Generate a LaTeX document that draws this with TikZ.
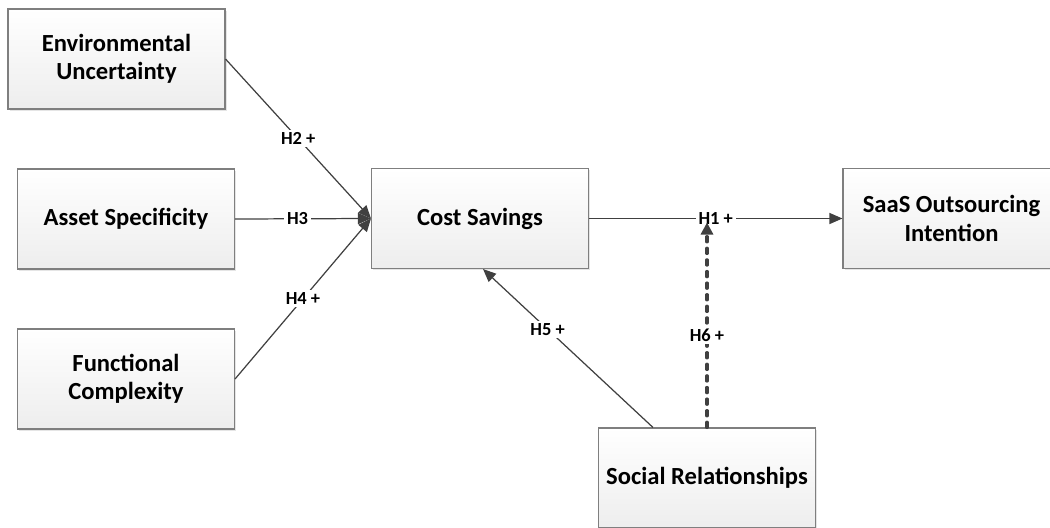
\documentclass[tikz,border=0pt]{standalone}
\usepackage{fontspec}
\setmainfont{Carlito}
\usetikzlibrary{arrows.meta,shadows}

\definecolor{linegray}{HTML}{404040}
\definecolor{boxline}{HTML}{7F7F7F}

\tikzset{
	construct/.style={draw=boxline, line width=0.6pt, top color=white, bottom color=black!7,
		minimum width=4.34cm, minimum height=2cm, align=center, font=\bfseries\fontsize{14}{16}\selectfont,
		drop shadow={shadow xshift=0.35mm, shadow yshift=-0.35mm, fill=black!20, opacity=0.5}},
	link/.style={draw=linegray, line width=0.7pt, -{Triangle[length=2.6mm,width=2.2mm]}},
	hyp/.style={fill=white, text=black, inner sep=1.5pt, font=\bfseries\fontsize{10.5}{12}\selectfont}
}

\begin{document}
\begin{tikzpicture}[x=0.2mm, y=-0.2mm]
	\useasboundingbox (0,0) rectangle (1050,527);
	\clip (0,0) rectangle (1050,527);
	
	% Antecedents
	\node[construct] (env) at (116.5,59) {Environmental\\Uncertainty};
	\node[construct] (asset) at (126,219) {Asset Specificity};
	\node[construct] (func) at (126,379) {Functional\\Complexity};
	
	% Mediator and outcome
	\node[construct] (cost) at (480,218.5) {Cost Savings};
	\node[construct] (saas) at (951.5,218.5) {SaaS Outsourcing\\Intention};
	
	% Moderator
	\node[construct] (social) at (707,478) {Social Relationships};
	
	% Hypothesised paths
	\draw[link] (env.east) -- node[hyp] {H2 +} (cost.west);
	\draw[link] (asset.east) -- node[hyp, pos=0.46] {H3} (cost.west);
	\draw[link] (func.east) -- node[hyp] {H4 +} (cost.west);
	\draw[link] (cost.east) -- node[hyp] {H1 +} (saas.west);
	\draw[link] ([xshift=-1.08cm]social.north) -- node[hyp, pos=0.62] {H5 +} ([xshift=0.06cm]cost.south);
	
	% Moderating effect (dashed)
	\coordinate (h1mid) at (social.north |- cost.east);
	\draw[draw=linegray, line width=1.8pt, line cap=round, dash pattern=on 3pt off 3.6pt,
		-{Triangle[length=2.4mm,width=2.4mm]}] (social.north) -- node[hyp, pos=0.45] {H6 +} ([yshift=-0.08cm]h1mid);
	
\end{tikzpicture}
\end{document}
